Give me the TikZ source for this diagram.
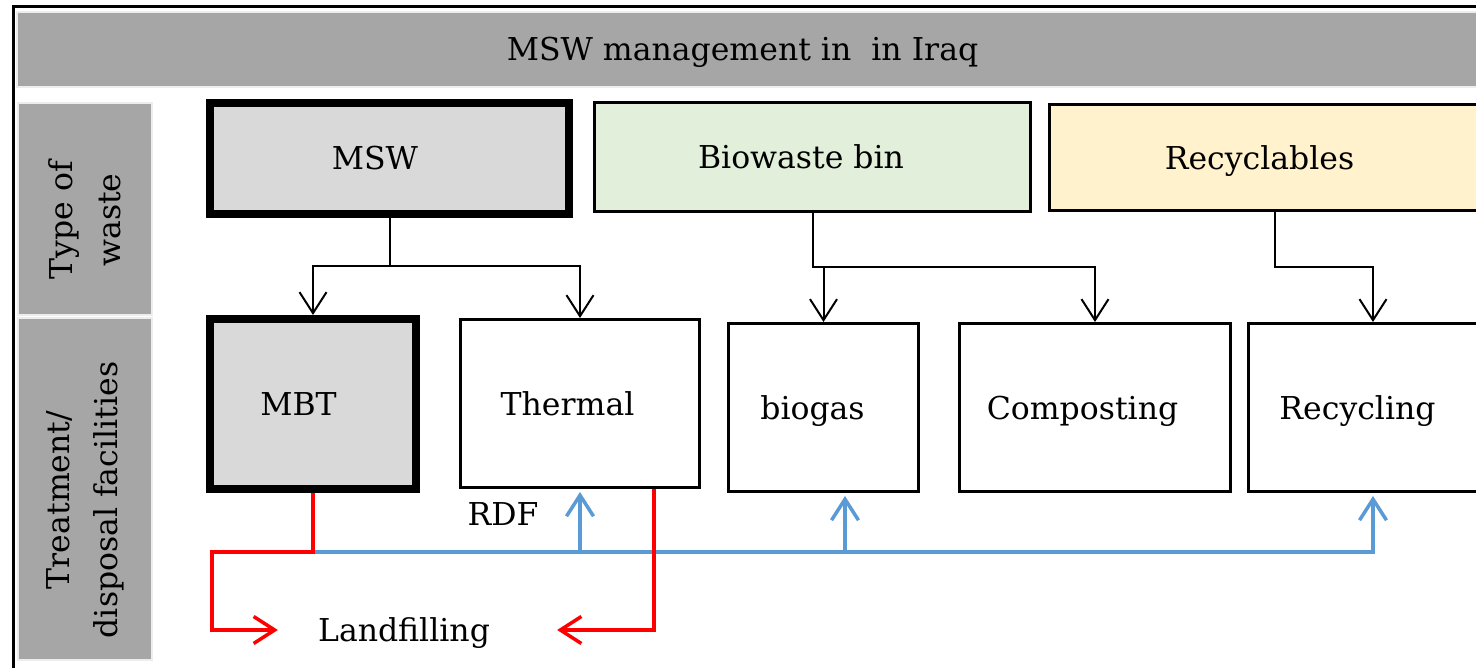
\documentclass[tikz,border=0pt]{standalone}
\usepackage{fontspec}
\setmainfont{DejaVu Serif}
\usetikzlibrary{arrows.meta}

\definecolor{bargray}{HTML}{A6A6A6}
\definecolor{edgegray}{HTML}{EDEDED}
\definecolor{mswgray}{HTML}{D9D9D9}
\definecolor{biogreen}{HTML}{E2EFDA}
\definecolor{recyellow}{HTML}{FFF2CC}
\definecolor{flowblue}{HTML}{5B9BD5}
\definecolor{flowred}{HTML}{FF0000}

% side labels sit a little off the middle of their bars
\newcommand{\lowline}[1]{\kern-11pt#1\kern11pt}

\tikzset{
  every node/.style={font=\fontsize{31.5}{38}\selectfont, inner sep=0pt},
  nudge/.style={execute at begin node={\kern-#1}, execute at end node={\kern#1}},
  capline/.style={text height=23pt, text depth=0pt},
  wastebox/.style={draw, line width=3pt, capline},
  heavybox/.style={wastebox, line width=8pt, fill=mswgray},
  sidebar/.style={draw=edgegray, line width=2pt, fill=bargray, rotate=90,
    align=center, font=\fontsize{31.5}{48}\selectfont},
  feed/.style={->, line width=2pt},
  rdfline/.style={->, line width=3.5pt, draw=flowblue, shorten >=3pt},
  reject/.style={->, line width=3.5pt, draw=flowred},
}

\begin{document}
\begin{tikzpicture}[x=1pt,y=-1pt,>={Straight Barb[length=21pt,width=27pt]},line join=miter]
    \useasboundingbox (0,0) rectangle (1476,668);
    \clip (0,0) rectangle (1476,668);
    \fill[white] (0,0) rectangle (1476,668);
    \draw[line width=3pt] (13,6.5) rectangle (1520,700);
    %%
    \node (title) at (758.5,49.5) [draw=edgegray,line width=2pt,fill=bargray,minimum width=1483pt,minimum height=75pt,capline,nudge=16pt] {MSW management in\ \ in Iraq};
    \node (kind) at (85,209) [sidebar,minimum width=212pt,minimum height=134pt] {\lowline{Type of}\\\lowline{waste}};
    \node (plant) at (85,489) [sidebar,minimum width=342pt,minimum height=134pt] {\lowline{Treatment/}\\\lowline{disposal facilities}};
    %%
    \node (msw) at (389.5,158.5) [heavybox,minimum width=359pt,minimum height=111pt,nudge=14.5pt] {MSW};
    \node (bio) at (812.5,157) [wastebox,fill=biogreen,minimum width=436pt,minimum height=109pt,nudge=11.5pt] {Biowaste bin};
    \node (rec) at (1274.75,157.8) [wastebox,fill=recyellow,minimum width=450.5pt,minimum height=106pt,nudge=15.25pt] {Recyclables};
    \node (mbt) at (313,404) [heavybox,minimum width=206pt,minimum height=170pt,nudge=14.5pt] {MBT};
    \node (therm) at (580,403.5) [wastebox,minimum width=239pt,minimum height=168pt,nudge=12.5pt] {Thermal};
    \node (biogas) at (823.5,407.5) [wastebox,minimum width=190pt,minimum height=168pt,nudge=11pt] {biogas};
    \node (comp) at (1095,407.5) [wastebox,minimum width=271pt,minimum height=168pt,nudge=12.5pt] {Composting};
    \node (recyc) at (1373,407.5) [wastebox,minimum width=249pt,minimum height=168pt,nudge=15.5pt] {Recycling};
    \node (rdftag) at (503,514) [capline] {RDF};
    \node (land) at (404,630) [capline] {Landfilling};
    %%
    \draw [feed] (msw.south) -- ++(0,48) -| (mbt.north);
    \draw [feed] (msw.south) -- ++(0,48) -| (therm.north);
    \draw [feed] (bio.south) -- ++(0,54) -| (comp.north);
    \draw [feed] (bio.south) ++(0,54) -| (biogas.north);
    \draw [feed] (rec.south) -- ++(0,55) -| (recyc.north);
    %
    \coordinate (split) at ([yshift=-59pt]mbt.south);
    \coordinate (bgin) at ([xshift=21.5pt]biogas.south);
    \coordinate (thout) at ([xshift=74pt]therm.south);
    \coordinate (lfl) at ([xshift=-40pt]land.west);
    \coordinate (lfr) at ([xshift=67pt]land.east);
    \draw [rdfline] (split) -| (recyc.south);
    \draw [rdfline] (split -| therm.south) -- (therm.south);
    \draw [rdfline] (split -| bgin) -- (bgin);
    \draw [reject] (mbt.south) -- (split) -- ++(-101,0) |- (lfl);
    \draw [reject] (thout) |- (lfr);
    %
\end{tikzpicture}
\end{document}
